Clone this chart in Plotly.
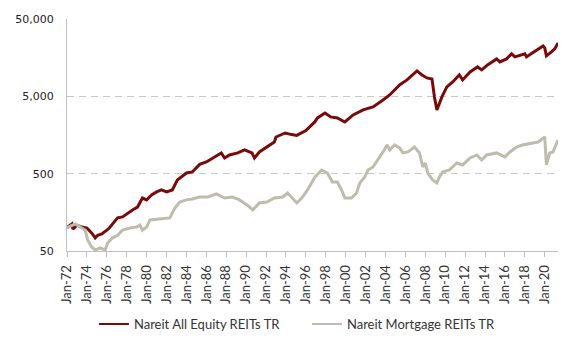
import plotly.graph_objects as go

# ---- data (log scale index, base 100 = Jan-72) ----
equity_dates = [
    "1972-01", "1972-07", "1972-08", "1973-01", "1973-07", "1974-01", "1974-07", "1974-11",
    "1975-02", "1975-07", "1976-01", "1976-04", "1976-08", "1977-02", "1977-08", "1978-02",
    "1978-08", "1979-02", "1979-08", "1980-01", "1980-07", "1981-01", "1981-07", "1982-01",
    "1982-08", "1983-02", "1984-01", "1984-08", "1985-05", "1986-01", "1986-09", "1987-07",
    "1987-11", "1988-05", "1989-03", "1989-11", "1990-08", "1990-11", "1991-05", "1992-02",
    "1992-11", "1993-01", "1993-12", "1994-08", "1995-02", "1996-01", "1996-12", "1997-03",
    "1997-12", "1998-07", "1999-03", "1999-12", "2000-10", "2001-10", "2002-10", "2003-10",
    "2004-06", "2005-06", "2006-03", "2007-03", "2007-09", "2008-03", "2008-09", "2008-12",
    "2009-03", "2009-09", "2010-03", "2010-10", "2011-06", "2011-10", "2012-07", "2013-04",
    "2013-09", "2014-04", "2015-03", "2015-07", "2016-03", "2016-09", "2017-01", "2018-01",
    "2018-03", "2018-10", "2019-11", "2020-01", "2020-03", "2020-09", "2021-01", "2021-05",
]
equity_values = [
    100, 112, 96, 108, 102, 99, 85, 74,
    80, 83, 93, 99, 112, 134, 138, 155,
    170, 185, 242, 229, 265, 290, 308, 290,
    308, 414, 510, 526, 660, 708, 798, 927,
    798, 873, 927, 1013, 927, 798, 955, 1107,
    1285, 1490, 1680, 1600, 1560, 1800, 2350, 2630,
    3049, 2707, 2628, 2332, 2871, 3335, 3647, 4490,
    5212, 7020, 8150, 10670, 9460, 8650, 8400, 4910,
    3335, 4910, 6620, 7680, 9460, 8150, 10350, 12000,
    10990, 12740, 15240, 13930, 15240, 17700, 16180, 17700,
    16180, 18210, 22440, 21140, 16670, 18760, 20520, 24550,
]

mortgage_dates = [
    "1972-01", "1972-11", "1973-05", "1973-11", "1974-02", "1974-07", "1974-11", "1975-05",
    "1975-11", "1976-02", "1976-08", "1977-02", "1977-08", "1978-05", "1979-01", "1979-05",
    "1979-08", "1980-01", "1980-05", "1981-05", "1982-05", "1982-11", "1983-05", "1984-01",
    "1984-08", "1985-05", "1986-03", "1987-01", "1987-11", "1988-08", "1989-05", "1990-02",
    "1990-09", "1991-05", "1992-02", "1992-11", "1993-09", "1994-03", "1994-08", "1995-02",
    "1995-08", "1996-03", "1996-12", "1997-08", "1998-03", "1998-09", "1999-03", "1999-08",
    "1999-12", "2000-08", "2001-02", "2001-06", "2001-12", "2002-04", "2002-10", "2003-04",
    "2003-10", "2004-03", "2004-06", "2004-12", "2005-06", "2005-10", "2006-04", "2006-12",
    "2007-06", "2007-10", "2008-01", "2008-04", "2008-10", "2009-03", "2009-06", "2009-10",
    "2010-06", "2011-03", "2011-10", "2012-07", "2013-03", "2013-09", "2014-03", "2015-03",
    "2016-01", "2016-07", "2017-03", "2017-10", "2018-09", "2019-05", "2020-01", "2020-03",
    "2020-07", "2020-11", "2021-05",
]
mortgage_values = [
    100, 112, 102, 93, 69, 56, 51.5, 55,
    51.5, 63.5, 74, 80, 93, 99, 102, 108,
    93, 102, 126, 130, 134, 180, 215, 229,
    235, 250, 250, 273, 242, 250, 229, 197,
    170, 209, 215, 242, 250, 281, 242, 209,
    242, 308, 453, 558, 510, 390, 390, 308,
    242, 242, 281, 379, 453, 558, 610, 752,
    955, 1175, 1013, 1175, 1075, 927, 955, 1107,
    927, 610, 687, 510, 414, 379, 453, 526,
    558, 687, 648, 798, 873, 752, 873, 927,
    822, 955, 1107, 1175, 1247, 1285, 1492, 648,
    927, 955, 1364,
]

series_names = ["Nareit All Equity REITs TR", "Nareit Mortgage REITs TR"]
series_colors = ["#780A0A", "#BEBCAD"]

y_tick_values = [50, 500, 5000, 50000]
y_tick_labels = ["50", "500", "5,000", "50,000"]

x_tick_dates = ["%d-01-01" % y for y in range(1972, 2021, 2)]
x_tick_labels = [
    "Jan-72", "Jan-74", "Jan-76", "Jan-78", "Jan-80", "Jan-82", "Jan-84", "Jan-86",
    "Jan-88", "Jan-90", "Jan-92", "Jan-94", "Jan-96", "Jan-98", "Jan-00", "Jan-02",
    "Jan-04", "Jan-06", "Jan-08", "Jan-10", "Jan-12", "Jan-14", "Jan-16", "Jan-18",
    "Jan-20",
]

# ---- figure ----
fig = go.Figure()
fig.add_trace(go.Scatter(
    x=equity_dates, y=equity_values, mode="lines", name=series_names[0],
    line=dict(color=series_colors[0], width=3), showlegend=False,
))
fig.add_trace(go.Scatter(
    x=mortgage_dates, y=mortgage_values, mode="lines", name=series_names[1],
    line=dict(color=series_colors[1], width=3), showlegend=False,
))
# legend entries (thinner lines as in the reference)
for name, color in zip(series_names, series_colors):
    fig.add_trace(go.Scatter(
        x=[None], y=[None], mode="lines", name=name,
        line=dict(color=color, width=2), showlegend=True,
    ))

fig.update_layout(
    width=588, height=343,
    margin=dict(l=67, r=30, t=19, b=92, autoexpand=False),
    paper_bgcolor="white", plot_bgcolor="white",
    showlegend=True,
    legend=dict(
        orientation="h", xref="container", x=0.522, xanchor="center",
        yref="container", y=0.055, yanchor="middle",
        font=dict(family="Lato", size=13, color="#333333"),
        traceorder="normal", itemwidth=30,
        entrywidth=168, entrywidthmode="pixels",
    ),
    font=dict(family="Lato", color="#333333"),
)
fig.update_xaxes(
    type="date", automargin=False,
    range=["1972-01-01", "2021-05-01"],
    tickvals=x_tick_dates, ticktext=x_tick_labels,
    tickangle=-90,
    tickfont=dict(family="Lato", size=13, color="#333333"),
    ticks="outside", ticklen=5, tickcolor="#BFBFBF",
    ticklabelstandoff=3,
    showline=True, linecolor="#BFBFBF", linewidth=1,
    showgrid=False, zeroline=False,
)
fig.update_yaxes(
    type="log", automargin=False,
    range=[1.69897, 4.69897],
    tickvals=y_tick_values, ticktext=y_tick_labels,
    tickfont=dict(family="DejaVu Sans", size=11, color="#222222"),
    ticklabelstandoff=10,
    showline=True, linecolor="#BFBFBF", linewidth=1,
    showgrid=True, gridcolor="#C8C8C8", gridwidth=1, griddash="7px,5px",
    zeroline=False,
)

fig.write_html("out.html")
